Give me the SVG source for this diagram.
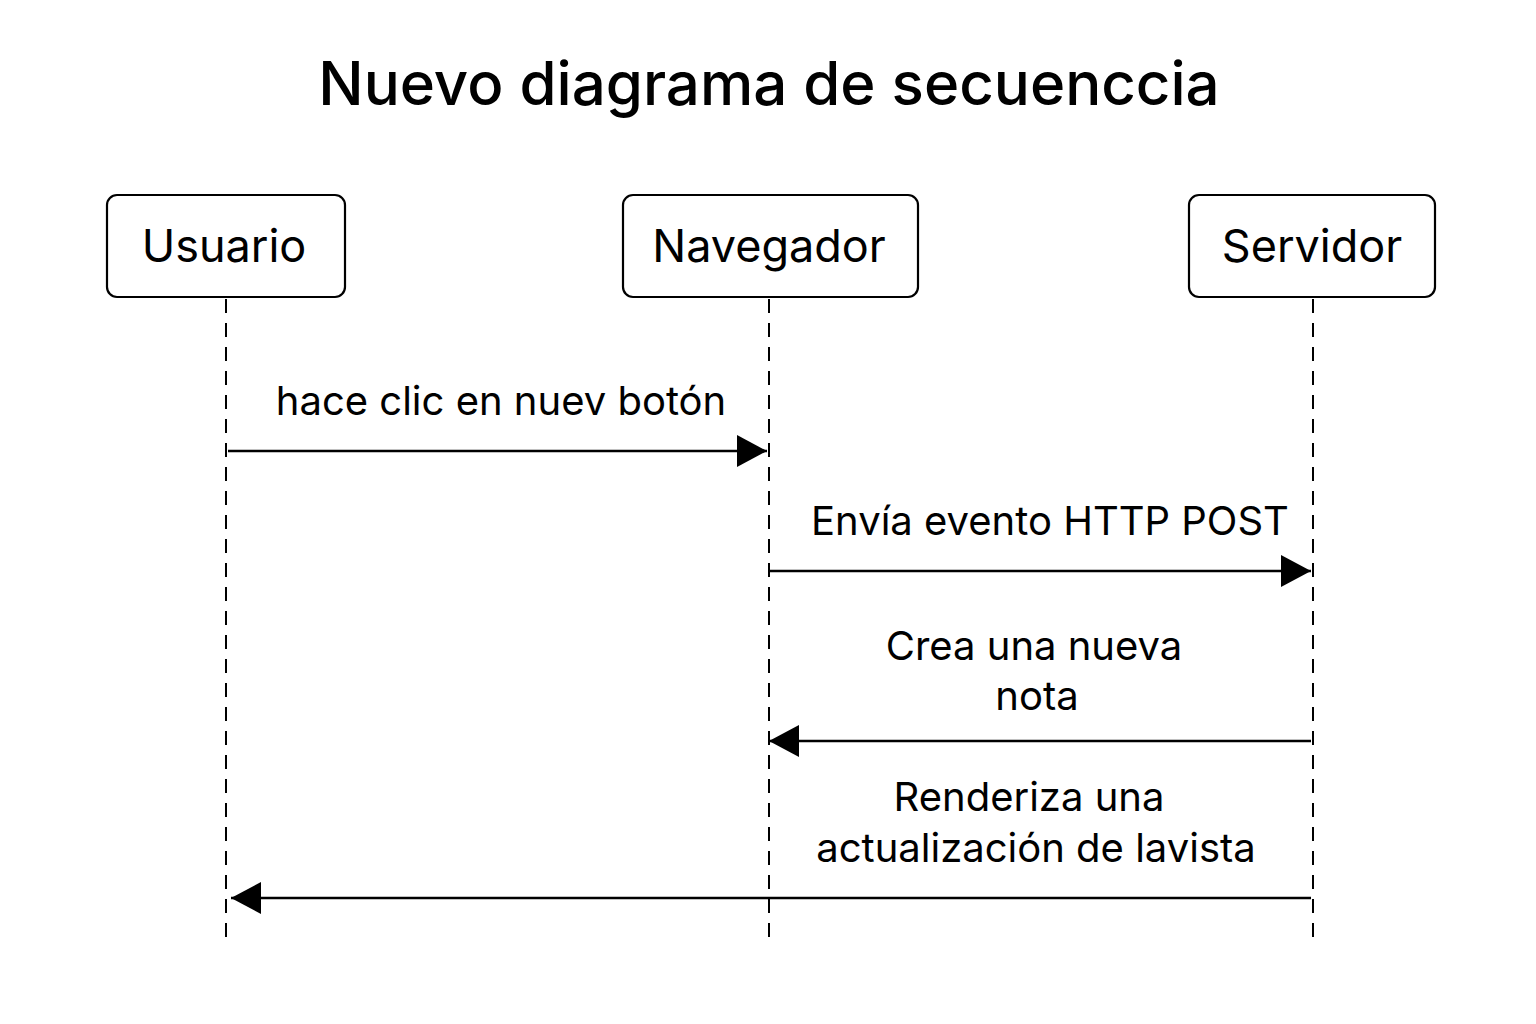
<svg xmlns="http://www.w3.org/2000/svg" width="1536" height="1024" viewBox="0 0 1536 1024">
<defs>
<style>
.box{fill:#fff;stroke:#000;stroke-width:2.2}
.life{stroke:#000;stroke-width:2;stroke-dasharray:14 10;fill:none}
.msg{stroke:#000;stroke-width:2.5;fill:none}
.t{font-family:Inter,"Noto Sans","DejaVu Sans",sans-serif;fill:#000;text-anchor:middle}
.nl{font-size:45px}
.ml{font-size:40px}
.title{font-size:60px;font-weight:500}
</style>
<marker id="ah" viewBox="0 0 30 32" refX="30" refY="16" markerWidth="30" markerHeight="32" markerUnits="userSpaceOnUse" orient="auto">
<path d="M0,0 L30,16 L0,32 Z" fill="#000"/>
</marker>
</defs>
<rect width="1536" height="1024" fill="#fff"/>
<text class="t title" x="769" y="105">Nuevo diagrama de secuenccia</text>
<g id="usuario">
<rect class="box" x="107" y="195" width="238" height="102" rx="10"/>
<text class="t nl" x="224" y="262">Usuario</text>
</g>
<g id="navegador">
<rect class="box" x="623" y="195" width="295" height="102" rx="10"/>
<text class="t nl" x="769" y="262">Navegador</text>
</g>
<g id="servidor">
<rect class="box" x="1189" y="195" width="246" height="102" rx="10"/>
<text class="t nl" x="1312" y="262">Servidor</text>
</g>
<g id="lifelines">
<line class="life" x1="226" y1="299" x2="226" y2="945"/>
<line class="life" x1="769" y1="299" x2="769" y2="945"/>
<line class="life" x1="1313" y1="299" x2="1313" y2="945"/>
</g>
<g id="connectors">
<line class="msg" x1="228" y1="451" x2="767" y2="451" marker-end="url(#ah)"/>
<line class="msg" x1="769" y1="571" x2="1311" y2="571" marker-end="url(#ah)"/>
<line class="msg" x1="1311" y1="741" x2="769" y2="741" marker-end="url(#ah)"/>
<line class="msg" x1="1311" y1="898" x2="231" y2="898" marker-end="url(#ah)"/>
</g>
<g id="labels">
<text class="t ml" x="501" y="415">hace clic en nuev botón</text>
<text class="t ml" x="1050" y="535">Envía evento HTTP POST</text>
<text class="t ml" x="1034" y="660">Crea una nueva</text>
<text class="t ml" x="1037" y="710">nota</text>
<text class="t ml" x="1029" y="811">Renderiza una</text>
<text class="t ml" x="1036" y="862">actualización de lavista</text>
</g>
</svg>
